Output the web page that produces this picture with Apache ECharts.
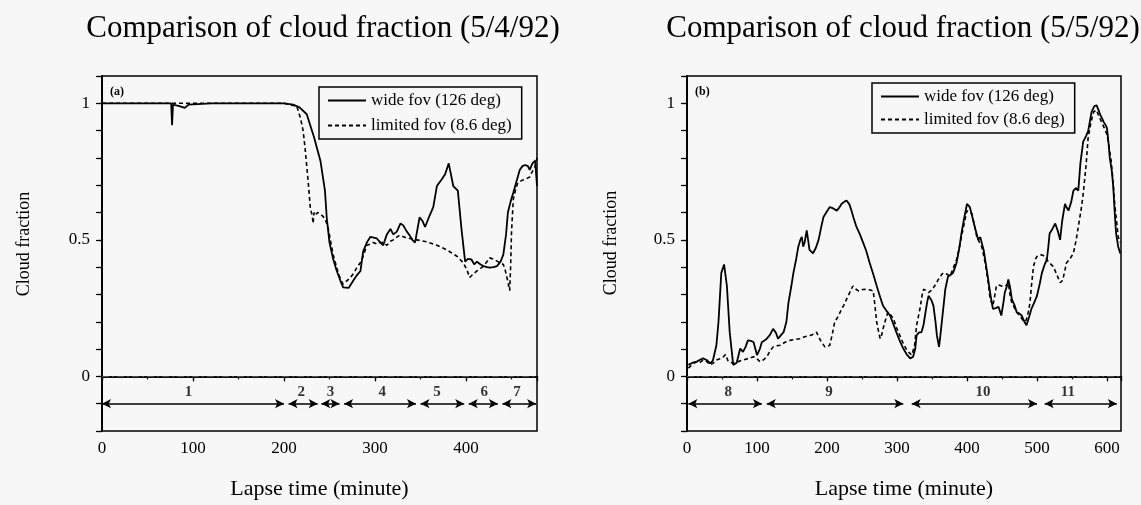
<!DOCTYPE html>
<html><head><meta charset="utf-8">
<script src="https://cdn.jsdelivr.net/npm/echarts@6/dist/echarts.min.js"></script>
<style>html,body{margin:0;padding:0;background:#f7f7f7}#c{width:1141px;height:505px}</style>
</head><body><div id="c"></div>
<script>
// ---- data ----
const seriesNames = ['wide fov (126 deg)', 'limited fov (8.6 deg)'];
const titles = ['Comparison of cloud fraction (5/4/92)', 'Comparison of cloud fraction (5/5/92)'];
const panelTags = ['(a)', '(b)'];
const xName = 'Lapse time (minute)';
const yName = 'Cloud fraction';

const leftWide = [[0,1],[30,1],[60,1],[76,1],[77,0.92],[78,0.995],[85,0.99],[91,0.983],[95,0.995],[120,1],[150,1],[180,1],[200,1],[210,0.995],[217,0.985],[225,0.96],[233,0.876],[240,0.79],[245,0.68],[247,0.58],[250,0.49],[254,0.43],[258,0.386],[262,0.35],[265,0.326],[271,0.324],[276,0.35],[280,0.37],[284,0.386],[287,0.458],[291,0.49],[295,0.511],[302,0.505],[306,0.49],[309,0.48],[313,0.52],[317,0.54],[320,0.52],[324,0.53],[328,0.56],[331,0.553],[335,0.53],[338,0.517],[341,0.5],[344,0.49],[349,0.583],[352,0.57],[355,0.547],[360,0.589],[364,0.62],[368,0.697],[373,0.72],[377,0.74],[381,0.78],[386,0.697],[391,0.68],[395,0.54],[399,0.42],[402,0.43],[406,0.428],[409,0.41],[412,0.42],[416,0.41],[419,0.404],[423,0.4],[426,0.398],[430,0.4],[434,0.404],[438,0.42],[441,0.446],[444,0.52],[446,0.6],[449,0.64],[452,0.673],[456,0.72],[459,0.756],[462,0.77],[465,0.774],[468,0.77],[470,0.756],[473,0.78],[476,0.79],[478,0.697]];
const leftLimited = [[0,1],[50,1],[100,1],[150,1],[200,1],[206,0.995],[214,0.99],[218,0.947],[221,0.9],[223,0.84],[225,0.77],[227,0.697],[229,0.613],[231,0.59],[232,0.56],[233,0.6],[234,0.59],[237,0.6],[240,0.595],[243,0.585],[245,0.577],[248,0.55],[250,0.517],[252,0.48],[254,0.446],[257,0.41],[260,0.374],[263,0.35],[265,0.338],[269,0.35],[273,0.362],[277,0.38],[280,0.398],[285,0.422],[288,0.45],[291,0.48],[295,0.485],[298,0.49],[302,0.485],[305,0.49],[309,0.49],[313,0.48],[317,0.495],[320,0.5],[324,0.51],[327,0.517],[332,0.51],[338,0.505],[346,0.5],[357,0.493],[368,0.48],[379,0.463],[390,0.44],[397,0.416],[401,0.39],[404,0.362],[408,0.375],[412,0.386],[416,0.395],[419,0.404],[423,0.42],[426,0.434],[430,0.43],[434,0.422],[438,0.415],[441,0.41],[443,0.39],[445,0.362],[447,0.33],[448,0.314],[449,0.4],[450,0.53],[452,0.65],[455,0.69],[457,0.71],[460,0.715],[463,0.72],[467,0.725],[470,0.73],[472,0.745],[474,0.756],[476,0.77],[478,0.8]];
const rightWide = [[2,0.042],[8,0.05],[14,0.054],[18,0.06],[23,0.066],[28,0.06],[33,0.048],[37,0.058],[42,0.114],[45,0.2],[49,0.379],[53,0.41],[57,0.331],[61,0.162],[66,0.042],[71,0.05],[76,0.102],[80,0.09],[84,0.11],[87,0.132],[91,0.13],[95,0.126],[100,0.078],[104,0.1],[107,0.126],[110,0.13],[114,0.138],[118,0.15],[123,0.174],[127,0.16],[130,0.138],[134,0.15],[138,0.162],[142,0.2],[145,0.271],[149,0.33],[152,0.379],[156,0.43],[159,0.475],[162,0.5],[164,0.511],[166,0.475],[168,0.49],[171,0.535],[173,0.5],[175,0.463],[180,0.451],[184,0.47],[188,0.5],[192,0.55],[195,0.584],[200,0.605],[204,0.62],[209,0.615],[214,0.607],[218,0.62],[221,0.632],[225,0.64],[228,0.644],[232,0.63],[235,0.607],[238,0.58],[242,0.548],[247,0.52],[252,0.487],[256,0.46],[261,0.415],[266,0.375],[271,0.331],[276,0.29],[280,0.259],[285,0.24],[290,0.223],[295,0.19],[299,0.162],[304,0.13],[309,0.102],[314,0.08],[319,0.066],[323,0.072],[326,0.1],[328,0.15],[331,0.16],[335,0.162],[338,0.19],[340,0.223],[343,0.27],[345,0.295],[349,0.28],[352,0.259],[355,0.2],[357,0.15],[360,0.108],[362,0.15],[364,0.199],[367,0.27],[369,0.319],[373,0.367],[376,0.37],[380,0.379],[383,0.4],[385,0.415],[389,0.47],[392,0.523],[396,0.58],[400,0.632],[404,0.62],[408,0.58],[411,0.548],[414,0.52],[416,0.5],[419,0.51],[421,0.511],[424,0.46],[426,0.427],[430,0.36],[433,0.307],[437,0.247],[441,0.25],[445,0.255],[449,0.223],[452,0.27],[454,0.307],[457,0.33],[459,0.355],[462,0.32],[464,0.283],[468,0.26],[471,0.235],[475,0.23],[478,0.223],[482,0.2],[485,0.187],[489,0.22],[492,0.247],[496,0.27],[500,0.295],[504,0.34],[507,0.379],[511,0.41],[514,0.427],[516,0.47],[518,0.523],[522,0.54],[526,0.56],[530,0.53],[533,0.5],[536,0.57],[540,0.632],[542,0.62],[545,0.607],[549,0.64],[552,0.68],[556,0.69],[559,0.68],[562,0.78],[566,0.86],[570,0.88],[573,0.897],[576,0.94],[578,0.969],[582,0.99],[585,0.993],[588,0.975],[590,0.96],[593,0.945],[595,0.933],[598,0.92],[600,0.909],[602,0.86],[604,0.8],[607,0.75],[609,0.692],[611,0.6],[613,0.523],[616,0.475],[619,0.45]];
const rightLimited = [[2,0.03],[8,0.045],[14,0.054],[18,0.05],[23,0.06],[28,0.055],[33,0.042],[38,0.05],[42,0.06],[47,0.065],[52,0.072],[55,0.08],[59,0.054],[64,0.05],[68,0.048],[74,0.055],[80,0.06],[87,0.065],[95,0.072],[100,0.065],[104,0.054],[109,0.06],[114,0.072],[118,0.09],[123,0.108],[128,0.112],[133,0.114],[140,0.125],[147,0.132],[154,0.135],[161,0.138],[168,0.145],[176,0.15],[181,0.155],[185,0.162],[188,0.145],[192,0.126],[197,0.108],[201,0.11],[204,0.114],[208,0.16],[211,0.199],[216,0.22],[221,0.247],[225,0.265],[228,0.283],[233,0.31],[237,0.331],[241,0.32],[245,0.313],[251,0.318],[257,0.319],[262,0.316],[266,0.313],[268,0.27],[271,0.199],[274,0.16],[276,0.138],[278,0.15],[280,0.174],[284,0.21],[287,0.235],[291,0.225],[295,0.211],[299,0.18],[304,0.15],[309,0.12],[314,0.096],[318,0.085],[321,0.078],[325,0.11],[328,0.187],[333,0.25],[336,0.3],[338,0.319],[341,0.315],[345,0.307],[349,0.315],[352,0.325],[356,0.34],[359,0.355],[363,0.37],[366,0.379],[371,0.375],[376,0.367],[380,0.395],[385,0.427],[389,0.47],[392,0.511],[396,0.56],[400,0.607],[404,0.6],[407,0.596],[411,0.55],[414,0.511],[418,0.49],[421,0.475],[424,0.44],[426,0.415],[430,0.35],[433,0.283],[437,0.259],[440,0.3],[442,0.331],[445,0.335],[447,0.337],[451,0.33],[454,0.33],[457,0.335],[459,0.343],[462,0.29],[464,0.27],[468,0.25],[471,0.235],[476,0.22],[480,0.205],[483,0.2],[485,0.21],[488,0.24],[490,0.271],[492,0.33],[495,0.403],[498,0.43],[500,0.439],[504,0.445],[507,0.445],[511,0.44],[514,0.427],[518,0.415],[523,0.403],[528,0.375],[533,0.343],[536,0.35],[538,0.367],[540,0.39],[542,0.415],[547,0.43],[552,0.451],[556,0.5],[559,0.548],[563,0.61],[566,0.668],[570,0.77],[573,0.872],[577,0.93],[581,0.969],[585,0.975],[588,0.955],[592,0.933],[596,0.91],[600,0.885],[603,0.84],[606,0.788],[609,0.7],[611,0.632],[614,0.56],[616,0.511],[619,0.49]];

// time segments (start, end) and their labels
const leftSegments = [[0,200],[205,237],[241,261],[266,345],[350,398],[403,435],[440,477]];
const leftSegLabels = ['1','2','3','4','5','6','7'];
const leftSegLabelX = [95,219,251,308,368,420,456];
const rightSegments = [[2,107],[114,309],[321,500],[511,614]];
const rightSegLabels = ['8','9','10','11'];
const rightSegLabelX = [59,203,423,544];
const segLineY = -0.1;
const segLabelY = -0.058;

const xMax = [478, 620];
const xInterval = 100;
const yMin = -0.2, yMax = 1.1, yInterval = 0.1;
const yLabelValues = [0, 0.5, 1];

// ---- chart ----
const FONT = '"Liberation Serif", "DejaVu Serif", serif';
const chart = echarts.init(document.getElementById('c'));

const grids = [
  {left: 102, width: 435, top: 76, height: 363},
  {left: 687, width: 434, top: 76, height: 361}
];

function xAxisFor(i) {
  return {
    type: 'value', gridIndex: i, min: 0, max: xMax[i], interval: xInterval,
    axisLine: {show: true, lineStyle: {color: '#000', width: 1.5}},
    axisTick: {show: true, inside: false, length: 5, lineStyle: {color: '#000', width: 1.2}},
    minorTick: {show: true, splitNumber: 2, length: 3, lineStyle: {color: '#000', width: 1.2}},
    splitLine: {show: false},
    axisLabel: {show: true, margin: 9, color: '#000', fontFamily: FONT, fontSize: 17,
      showMaxLabel: false},
    name: xName, nameLocation: 'middle', nameGap: 47,
    nameTextStyle: {color: '#000', fontFamily: FONT, fontSize: 22}
  };
}
function xTopAxisFor(i) {
  return {
    type: 'value', gridIndex: i, min: 0, max: xMax[i], interval: xInterval, position: 'top',
    axisLine: {show: true, lineStyle: {color: '#000', width: 1.5}},
    axisTick: {show: true, inside: true, length: 4, lineStyle: {color: '#000', width: 1.2}},
    minorTick: {show: false}, splitLine: {show: false}, axisLabel: {show: false}
  };
}
function yAxisFor(i) {
  return {
    type: 'value', gridIndex: i, min: yMin, max: yMax, interval: yInterval,
    axisLine: {show: true, lineStyle: {color: '#000', width: 1.5}},
    axisTick: {show: true, inside: false, length: 6, lineStyle: {color: '#000', width: 1.2}},
    splitLine: {show: false},
    axisLabel: {show: true, margin: 12, color: '#000', fontFamily: FONT, fontSize: 17,
      formatter: v => {
        for (const t of yLabelValues) if (Math.abs(v - t) < 1e-6) return String(t);
        return '';
      }}
  };
}
function yRightAxisFor(i) {
  return {
    type: 'value', gridIndex: i, min: yMin, max: yMax, interval: yInterval, position: 'right',
    axisLine: {show: true, lineStyle: {color: '#000', width: 1.5}},
    axisTick: {show: true, inside: true, length: 4, lineStyle: {color: '#000', width: 1.2}},
    splitLine: {show: false}, axisLabel: {show: false}
  };
}

function zeroMarkLine() {
  return {
    silent: true, animation: false, symbol: ['none', 'none'],
    label: {show: false},
    lineStyle: {type: [7,3,2,3], color: '#555', width: 0.9},
    data: [{yAxis: 0}]
  };
}

function segMarkLines(segs) {
  return {
    silent: true, animation: false,
    symbol: ['arrow','arrow'], symbolSize: [7, 9],
    label: {show: false},
    lineStyle: {color: '#000', width: 1.5, type: 'solid'},
    data: segs.map(s => [{coord: [s[0], segLineY]}, {coord: [s[1], segLineY]}])
  };
}

function segLabelSeries(i, xs, labels) {
  return {
    type: 'scatter', xAxisIndex: i, yAxisIndex: i, symbolSize: 0, silent: true,
    data: xs.map((x, k) => [x, segLabelY, labels[k]]),
    label: {show: true, position: 'inside', formatter: p => p.value[2],
      color: '#000', fontFamily: FONT, fontSize: 15, fontWeight: 'bold'},
    z: 5
  };
}

function lineSeries(i, name, data, dashed, marks) {
  const s = {
    type: 'line', name, xAxisIndex: i, yAxisIndex: i, data,
    showSymbol: false, symbol: 'none', animation: false,
    lineStyle: {color: '#000', width: dashed ? 1.6 : 1.8, type: dashed ? [4,3] : 'solid'},
    itemStyle: {color: '#000'}
  };
  if (marks) s.markLine = marks;
  return s;
}

function legendFor(left, top, gap) {
  return {
    data: seriesNames, orient: 'vertical', left, top,
    backgroundColor: 'transparent',
    borderColor: '#000', borderWidth: 1.5, padding: [5, 10, 5, 8],
    itemWidth: 38, itemHeight: 14, itemGap: gap,
    selectedMode: false,
    itemStyle: {opacity: 0},
    textStyle: {color: '#000', fontFamily: FONT, fontSize: 17}
  };
}

const option = {
  backgroundColor: '#f7f7f7',
  animation: false,
  title: [
    {text: titles[0], left: 318, top: 8, textAlign: 'center',
      textStyle: {fontFamily: FONT, fontSize: 31, fontWeight: 'normal', color: '#000'}},
    {text: titles[1], left: 898, top: 8, textAlign: 'center',
      textStyle: {fontFamily: FONT, fontSize: 31, fontWeight: 'normal', color: '#000'}}
  ],
  legend: [legendFor(319, 87, 8), legendFor(872, 83, 6)],
  grid: grids.map(g => Object.assign({show: true, borderColor: '#000', borderWidth: 1.5, backgroundColor: 'transparent', containLabel: false}, g)),
  xAxis: [xAxisFor(0), xAxisFor(1), xTopAxisFor(0), xTopAxisFor(1)],
  yAxis: [yAxisFor(0), yAxisFor(1), yRightAxisFor(0), yRightAxisFor(1)],
  series: [
    lineSeries(0, seriesNames[0], leftWide, false, segMarkLines(leftSegments)),
    lineSeries(0, seriesNames[1], leftLimited, true, zeroMarkLine()),
    lineSeries(1, seriesNames[0], rightWide, false, segMarkLines(rightSegments)),
    lineSeries(1, seriesNames[1], rightLimited, true, zeroMarkLine()),
    segLabelSeries(0, leftSegLabelX, leftSegLabels),
    segLabelSeries(1, rightSegLabelX, rightSegLabels)
  ],
  graphic: [
    {type: 'text', x: 24, y: 244, rotation: Math.PI / 2,
      style: {text: yName, fill: '#000', font: '18px ' + FONT, textAlign: 'center', textVerticalAlign: 'middle'}},
    {type: 'text', x: 611, y: 243, rotation: Math.PI / 2,
      style: {text: yName, fill: '#000', font: '18px ' + FONT, textAlign: 'center', textVerticalAlign: 'middle'}},
    {type: 'text', x: 110, y: 92,
      style: {text: panelTags[0], fill: '#000', font: 'bold 12px ' + FONT, textAlign: 'left', textVerticalAlign: 'middle'}},
    {type: 'text', x: 695, y: 92,
      style: {text: panelTags[1], fill: '#000', font: 'bold 12px ' + FONT, textAlign: 'left', textVerticalAlign: 'middle'}}
  ]
};
chart.setOption(option);
</script>
</body></html>
